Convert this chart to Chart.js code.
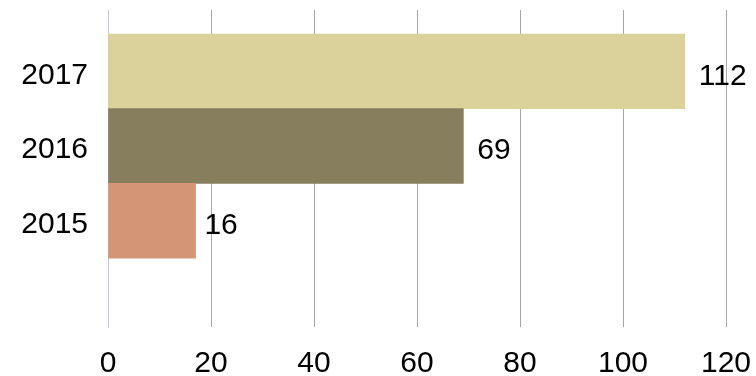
<!DOCTYPE html>
<html>
<head>
<meta charset="utf-8">
<script src="https://cdn.jsdelivr.net/npm/chart.js@4.4.1/dist/chart.umd.min.js"></script>
<style>
html,body{margin:0;padding:0;background:#fff;}
#wrap{width:756px;height:376px;position:relative;}
</style>
</head>
<body>
<div id="wrap"><canvas id="c" width="756" height="376"></canvas></div>
<script>
const categories = ['2017', '2016', '2015'];
const values = [112, 69, 17];
const valueLabels = [112, 69, 16];
const barColors = ['#DBD29B', '#867E5C', '#D49577'];
const xTicks = [0, 20, 40, 60, 80, 100, 120];

const FONT = '"Liberation Sans", Arial, sans-serif';

const labelPlugin = {
  id: 'barLabels',
  afterDatasetsDraw(chart) {
    const ctx = chart.ctx;
    const meta = chart.getDatasetMeta(0);
    const xs = chart.scales.x;
    ctx.save();
    ctx.font = '30px ' + FONT;
    ctx.fillStyle = '#000';
    ctx.textAlign = 'left';
    ctx.textBaseline = 'middle';
    meta.data.forEach((bar, i) => {
      const px = xs.getPixelForValue(valueLabels[i]) + 14;
      ctx.fillText(String(valueLabels[i]), px, bar.y + 5);
    });
    ctx.restore();
  }
};

new Chart(document.getElementById('c'), {
  type: 'bar',
  data: {
    datasets: [{
      data: values.map((v, i) => ({ x: v, y: i })),
      backgroundColor: barColors,
      borderWidth: 0,
      categoryPercentage: 1,
      barPercentage: 1
    }]
  },
  options: {
    indexAxis: 'y',
    responsive: false,
    animation: false,
    layout: { padding: { top: 10, right: 30, left: 0, bottom: 0 } },
    plugins: { legend: { display: false }, tooltip: { enabled: false } },
    scales: {
      x: {
        type: 'linear',
        min: 0,
        max: 120,
        afterBuildTicks: s => { s.ticks = xTicks.map(v => ({ value: v })); },
        afterFit: s => { s.height = 49; s.paddingLeft = 0; s.paddingRight = 0; },
        grid: {
          drawTicks: false,
          color: c => c.index === 0 ? 'rgba(0,0,0,0)' : '#a6a6a6',
          lineWidth: 1
        },
        border: { display: false },
        ticks: { color: '#000', font: { size: 30, family: FONT }, padding: 19 }
      },
      y: {
        type: 'linear',
        reverse: true,
        offset: false,
        min: -0.821,
        max: 3.423,
        afterBuildTicks: s => { s.ticks = categories.map((c, i) => ({ value: i })); },
        afterFit: s => { s.width = 108; s.paddingTop = 0; s.paddingBottom = 0; },
        grid: { display: false, drawTicks: false, offset: false },
        border: { display: true, color: '#c6c8d2', width: 1 },
        ticks: {
          color: '#000',
          font: { size: 30, family: FONT },
          padding: 20,
          labelOffset: 4,
          callback: v => categories[v] ?? ''
        }
      }
    }
  },
  plugins: [labelPlugin]
});
</script>
</body>
</html>
